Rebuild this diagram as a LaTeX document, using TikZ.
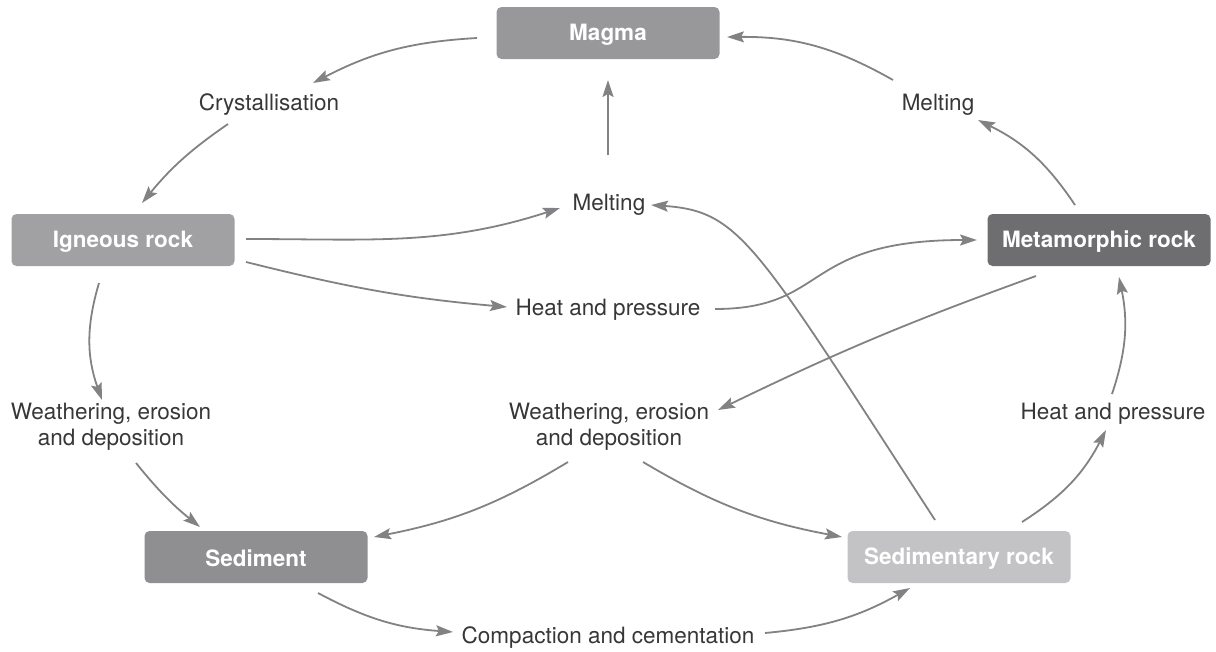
\documentclass[tikz,border=0pt]{standalone}
\usepackage{fontspec}
\setmainfont{TeX Gyre Heros}
\usepackage{tikz}
\usetikzlibrary{arrows.meta}
\definecolor{magmagray}{RGB}{152,152,155}
\definecolor{igneousgray}{RGB}{161,161,164}
\definecolor{metagray}{RGB}{110,110,113}
\definecolor{sedgray}{RGB}{143,143,146}
\definecolor{sedrockgray}{RGB}{195,195,197}
\definecolor{arrowgray}{RGB}{130,130,133}
\definecolor{textgray}{RGB}{55,55,57}
\newcommand{\rockfont}{\fontsize{22.5}{26}\selectfont\bfseries}
\newcommand{\procfont}{\fontsize{22.5}{26}\selectfont}

\begin{document}
\begin{tikzpicture}[x=1pt,y=1pt,
    rockbox/.style={rounded corners=5pt,minimum width=223pt,minimum height=52pt,
                    inner sep=0pt,text height=20pt,text=white,font=\rockfont},
    proc/.style={inner sep=0pt,align=center,text=textgray,font=\procfont},
    flow/.style={draw=arrowgray,line width=1.8pt,
                 -{Stealth[length=17pt,width=11pt,inset=3pt]}}]
  % one unit = one pixel of the 1216 x 651 frame, y counted downwards as -y
  \useasboundingbox (0,0) rectangle (1216,-651);

  % rock boxes
  \node[rockbox,fill=magmagray]   (magma) at (608,-33)  {Magma};
  \node[rockbox,fill=igneousgray] (ign)   at (123,-240) {Igneous rock};
  \node[rockbox,fill=metagray]    (meta)  at (1099,-240) {Metamorphic rock};
  \node[rockbox,fill=sedgray]     (sed)   at (256,-557) {Sediment};
  \node[rockbox,fill=sedrockgray] (sedr)  at (959,-557) {Sedimentary rock};

  % process labels
  \node[proc] (crys)   at (269,-105) {Crystallisation};
  \node[proc] (melttr) at (938,-105) {Melting};
  \node[proc] (melt)   at (609,-205) {Melting};
  \node[proc] (heat)   at (608,-310) {Heat and pressure};
  \node[proc] (weathl) at (111,-427) {Weathering, erosion\\and deposition};
  \node[proc] (weathm) at (609,-427) {Weathering, erosion\\and deposition};
  \node[proc] (heatr)  at (1113,-414) {Heat and pressure};
  \node[proc] (comp)   at (608,-638) {Compaction and cementation};

  % outer cycle
  \draw[flow] ([shift={(-131,-5)}]magma.center) to[bend right=12] ([shift={(44,22)}]crys.center);
  \draw[flow] ([shift={(-41,-19)}]crys.center) to[bend right=8] ([shift={(19,37)}]ign.center);
  \draw[flow] ([shift={(-24,-43)}]ign.center) to[bend right=18] ([shift={(-9,27)}]weathl.center);
  \draw[flow] ([shift={(25,-36)}]weathl.center) to[bend right=6] ([shift={(-56,30)}]sed.center);
  \draw[flow] ([shift={(62,-36)}]sed.center) to[bend right=12] ([shift={(-155,6)}]comp.center);
  \draw[flow] ([shift={(157,5)}]comp.center) to[bend right=12] ([shift={(-49,-31)}]sedr.center);
  \draw[flow] ([shift={(63,35)}]sedr.center) to[bend right=15] ([shift={(-7,-16)}]heatr.center);
  \draw[flow] ([shift={(-1,20)}]heatr.center) to[bend right=15] ([shift={(20,-37)}]meta.center);
  \draw[flow] ([shift={(-24,35)}]meta.center) to[bend right=15] ([shift={(40,-15)}]melttr.center);
  \draw[flow] ([shift={(-45,25)}]melttr.center) to[bend right=15] ([shift={(119,-4)}]magma.center);

  % cross links
  \draw[flow] ([shift={(123,1)}]ign.center) to[out=0,in=198] ([shift={(-49,-3)}]melt.center);
  \draw[flow] ([shift={(-1,50)}]melt.center) -- ([shift={(0,-47)}]magma.center);
  \draw[flow] ([shift={(123,-22)}]ign.center) to[out=-14,in=175] ([shift={(-101,3)}]heat.center);
  \draw[flow] ([shift={(107,1)}]heat.center)
      to[out=0,in=180,out distance=115pt,in distance=177pt] ([shift={(-122,0)}]meta.center);
  \draw[flow] ([shift={(-63,-36)}]meta.center) to[bend right=3] ([shift={(109,17)}]weathm.center);
  \draw[flow] ([shift={(-41,-35)}]weathm.center) to[bend left=10] ([shift={(118,20)}]sed.center);
  \draw[flow] ([shift={(34,-35)}]weathm.center) to[bend right=10] ([shift={(-117,20)}]sedr.center);
  \draw[flow] ([shift={(-24,37)}]sedr.center)
      to[out=123,in=-4,out distance=330pt,in distance=90pt] ([shift={(42,0)}]melt.center);
\end{tikzpicture}
\end{document}
